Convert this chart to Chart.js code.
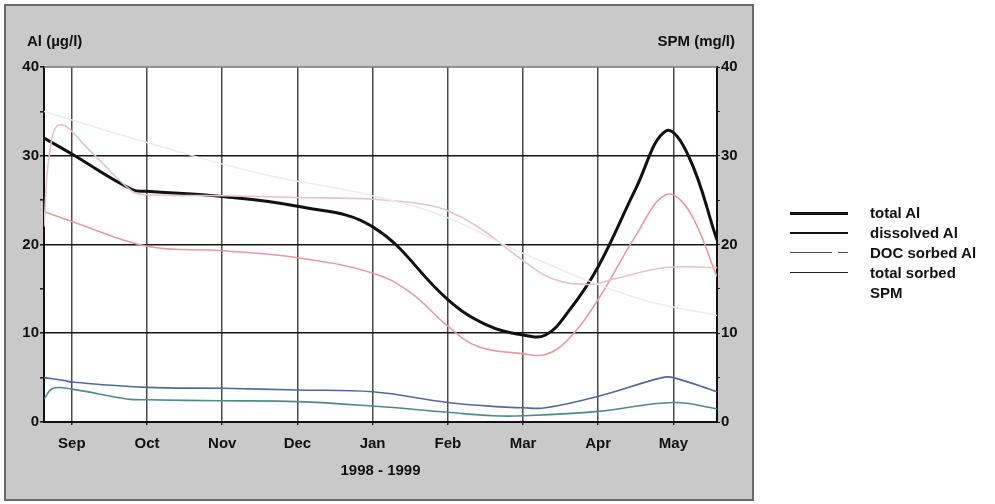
<!DOCTYPE html>
<html><head><meta charset="utf-8">
<script src="https://cdn.jsdelivr.net/npm/chart.js@4/dist/chart.umd.min.js"></script>
<style>
html,body{margin:0;padding:0;background:#fff;}
#wrap{position:relative;width:995px;height:504px;overflow:hidden;}
canvas{position:absolute;left:0;top:0;}
.lt{position:absolute;left:870px;font:bold 15px "Liberation Sans",Arial,sans-serif;color:#111;line-height:16px;white-space:nowrap;}
.sw{position:absolute;left:790px;width:58px;height:0;}
</style></head><body>
<div id="wrap">
<canvas id="c" width="995" height="504"></canvas>
<div class="sw" style="top:212px;border-top:3px solid #111;"></div>
<div class="lt" style="top:205px;">total Al</div>
<div class="sw" style="top:232px;border-top:2px solid #111;"></div>
<div class="lt" style="top:225px;">dissolved Al</div>
<div class="sw" style="top:252px;width:42px;border-top:1.5px solid #555;"></div>
<div class="sw" style="top:252px;left:838px;width:10px;border-top:1.5px solid #555;"></div>
<div class="lt" style="top:245px;">DOC sorbed Al</div>
<div class="sw" style="top:272px;border-top:1.5px solid #222;"></div>
<div class="lt" style="top:265px;">total sorbed</div>
<div class="lt" style="top:285px;">SPM</div>
</div>
<script>
// x values: months after 1 Sep 1998 (Sep = 0)
const monthLabels = ['Sep','Oct','Nov','Dec','Jan','Feb','Mar','Apr','May'];
const yTicksLeft = [0,10,20,30,40];

const totalAl = [[-0.37,32.0],[0,30.2],[0.8,26.2],[1,26.0],[2,25.4],[3,24.3],[4,22.0],[5,13.8],[5.5,11.0],[6,9.8],[6.3,9.8],[6.6,12.4],[7,17.5],[7.5,26.3],[7.9,32.8],[8.2,30.0],[8.58,20.5]];
const dissolvedAl = [[-0.37,23.7],[0,22.6],[1,19.8],[2,19.3],[3,18.5],[4,16.8],[4.5,14.6],[5,10.8],[5.4,8.5],[6,7.7],[6.3,7.6],[6.6,9.3],[7,13.8],[7.5,21.0],[7.9,25.6],[8.2,23.9],[8.58,16.4]];
const docSorbedAl = [[-0.37,2.6],[-0.25,3.8],[0,3.7],[0.73,2.6],[1,2.5],[2,2.4],[3,2.3],[4,1.8],[5,1.1],[5.6,0.7],[6,0.7],[7,1.2],[8,2.2],[8.58,1.5]];
const totalSorbed = [[-0.37,5.0],[-0.12,4.7],[0,4.5],[1,3.9],[2,3.8],[3,3.6],[4,3.4],[5,2.2],[5.7,1.7],[6,1.6],[6.3,1.6],[7,2.9],[7.85,5.0],[8,5.0],[8.58,3.4]];
const spm = [[-0.37,22.0],[-0.3,30.0],[-0.16,33.5],[0.25,30.5],[0.8,26.0],[1,25.6],[2,25.5],[3,25.3],[4,25.1],[4.7,24.5],[5,23.8],[5.4,22.0],[6,18.2],[6.4,16.1],[6.9,15.5],[7.2,16.1],[7.9,17.4],[8.58,17.4]];
const faintTrend = [[-0.37,35.0],[1,31.5],[2.5,28.0],[4,25.5],[5,23.0],[6,19.0],[7.5,14.0],[8.58,12.0]];

const pts = a => a.map(p => ({x:p[0], y:p[1]}));

const bgPlugin = {
  id:'bg',
  beforeDraw(chart){
    const c = chart.ctx, a = chart.chartArea;
    c.save();
    c.fillStyle = '#c9c9c9';
    c.fillRect(5,5,748,495);
    c.strokeStyle = '#6a6a6a'; c.lineWidth = 2;
    c.strokeRect(5,5,748,495);
    c.fillStyle = '#ffffff';
    c.fillRect(a.left,a.top,a.right-a.left,a.bottom-a.top);
    c.restore();
  },
  afterDraw(chart){
    const c = chart.ctx, a = chart.chartArea;
    c.save();
    c.strokeStyle = '#777'; c.lineWidth = 1.5;
    c.beginPath(); c.moveTo(a.left, a.top); c.lineTo(a.right, a.top); c.stroke();
    c.font = 'bold 15px "Liberation Sans", Arial, sans-serif';
    c.fillStyle = '#111';
    c.textBaseline = 'middle';
    c.textAlign = 'left';
    c.fillText('Al (\u00b5g/l)', 27, 42);
    c.textAlign = 'right';
    c.fillText('SPM (mg/l)', 735, 42);
    c.restore();
  }
};

const ds = (label, data, color, width, axis) => ({
  label, data: pts(data), borderColor: color, borderWidth: width, yAxisID: axis || 'y',
  pointRadius: 0, fill: false, tension: 0.4
});

new Chart(document.getElementById('c'), {
  type: 'line',
  data: { datasets: [
    ds('', faintTrend, '#ebebeb', 1.5, 'y2'),
    ds('SPM', spm, '#e3c4ca', 1.6, 'y2'),
    ds('total sorbed', totalSorbed, '#51699a', 1.6),
    ds('DOC sorbed Al', docSorbedAl, '#4f8b85', 1.6),
    ds('dissolved Al', dissolvedAl, '#e39aa8', 1.6),
    ds('total Al', totalAl, '#111111', 3)
  ]},
  options: {
    responsive: false, animation: false,
    layout: { padding: { top: 67, left: 0, right: 0, bottom: 0 } },
    plugins: { legend: { display: false }, tooltip: { enabled: false } },
    scales: {
      x: {
        type: 'linear', min: -0.37, max: 8.58,
        afterBuildTicks: s => { s.ticks = monthLabels.map((m,i) => ({value:i})); },
        afterFit: s => { s.height = 82; },
        ticks: { callback: v => monthLabels[v] ?? '', font: { family: '"Liberation Sans", Arial, sans-serif', size: 15, weight: 'bold' }, color: '#111', padding: 10, maxRotation: 0, autoSkip: false },
        grid: { color: '#4a4a4a', lineWidth: 1.5, drawTicks: true, tickLength: 3, tickColor: '#222' },
        border: { color: '#111', width: 2 },
        title: { display: true, text: '1998 - 1999', font: { family: '"Liberation Sans", Arial, sans-serif', size: 15, weight: 'bold' }, color: '#111', padding: { top: 0, bottom: 24 } }
      },
      y: {
        position: 'left', min: 0, max: 40,
        afterBuildTicks: s => { s.ticks = [0,5,10,15,20,25,30,35,40].map(v => ({value:v})); },
        afterFit: s => { s.width = 44; },
        ticks: { callback: v => yTicksLeft.includes(v) ? String(v) : '', font: { family: '"Liberation Sans", Arial, sans-serif', size: 15, weight: 'bold' }, color: '#111', padding: 1, autoSkip: false },
        grid: { color: c => (c.tick && c.tick.value % 10 === 0 && c.tick.value > 0 && c.tick.value < 40) ? '#151515' : 'rgba(0,0,0,0)', lineWidth: 1.6, tickLength: 4, tickColor: '#222' },
        border: { color: '#111', width: 2 }
      },
      y2: {
        position: 'right', min: 0, max: 40,
        afterBuildTicks: s => { s.ticks = [0,5,10,15,20,25,30,35,40].map(v => ({value:v})); },
        afterFit: s => { s.width = 278; },
        ticks: { callback: v => yTicksLeft.includes(v) ? String(v) : '', font: { family: '"Liberation Sans", Arial, sans-serif', size: 15, weight: 'bold' }, color: '#111', padding: 1, autoSkip: false },
        grid: { drawOnChartArea: false, tickLength: 3, tickColor: '#222' },
        border: { color: '#111', width: 2 }
      }
    }
  },
  plugins: [bgPlugin]
});
</script>
</body></html>
